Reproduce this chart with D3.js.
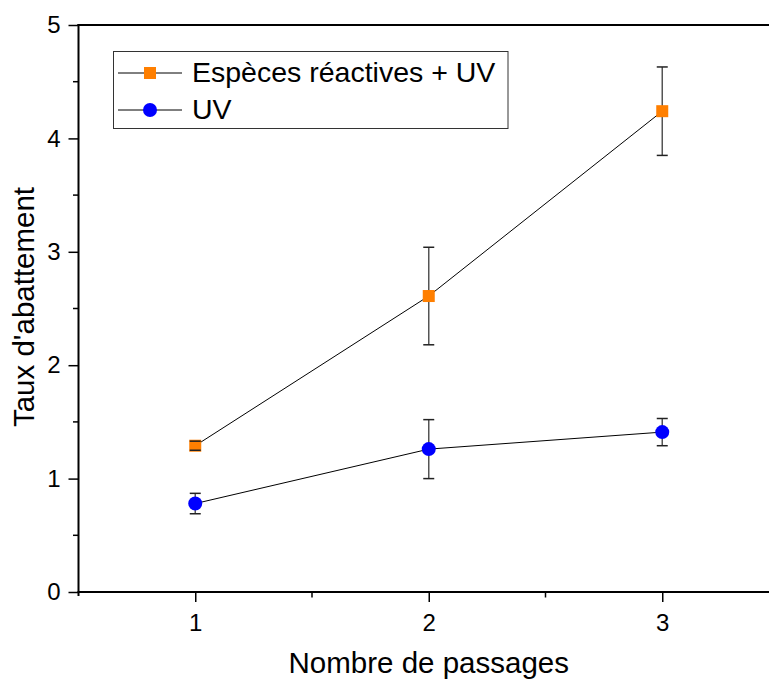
<!DOCTYPE html>
<html><head><meta charset="utf-8">
<script src="https://cdn.jsdelivr.net/npm/d3@7"></script>
<style>body{margin:0;background:#fff}svg{display:block;font-family:"Liberation Sans",Arial,sans-serif}</style>
</head><body>
<svg id="c" width="769" height="679"></svg>
<script>
const passages = [1, 2, 3];
const seriesNames = ["Espèces réactives + UV", "UV"];
const especesValues = [1.29, 2.61, 4.24];
const especesErrors = [0.04, 0.43, 0.39];
const uvValues = [0.78, 1.26, 1.41];
const uvErrors = [0.09, 0.26, 0.12];
const xTicks = [1, 2, 3];
const yTicks = [0, 1, 2, 3, 4, 5];
const xLabel = "Nombre de passages";
const yLabel = "Taux d'abattement";

const FONT = "Liberation Sans, Arial, sans-serif";
const svg = d3.select("#c");
const x = d3.scaleLinear().domain([0.5, 3.5]).range([78.5, 779]);
const y = d3.scaleLinear().domain([0, 5]).range([592, 25]);

// frame top
svg.append("line").attr("x1", x(0.5) - 1).attr("x2", 769).attr("y1", y(5)).attr("y2", y(5))
  .attr("stroke", "#000").attr("stroke-width", 2);

const xMinor = [1.5, 2.5];
const yMinor = [0.5, 1.5, 2.5, 3.5, 4.5];
const xAxis = d3.axisBottom(x).tickValues(xTicks).tickSize(10).tickPadding(12).tickFormat(d3.format("d"));
const yAxis = d3.axisLeft(y).tickValues(yTicks).tickSize(10).tickPadding(8).tickFormat(d3.format("d"));

const gx = svg.append("g").attr("transform", `translate(0,${y(0)})`).call(xAxis);
gx.select(".domain").remove();
gx.append("line").attr("x1", x(0.5) - 1).attr("x2", 769).attr("stroke", "#000").attr("stroke-width", 2);
gx.selectAll(".tick line").attr("stroke-width", 1.5);
gx.selectAll(".tick text").attr("font-size", 24).attr("fill", "#000").attr("font-family", FONT);
gx.selectAll(".minor").data(xMinor).enter().append("line").attr("class", "minor")
  .attr("x1", d => x(d)).attr("x2", d => x(d)).attr("y1", 0).attr("y2", 5.5)
  .attr("stroke", "#000").attr("stroke-width", 1.5);

const gy = svg.append("g").attr("transform", `translate(${x(0.5)},0)`).call(yAxis);
gy.select(".domain").remove();
gy.append("line").attr("y1", y(5) - 1).attr("y2", y(0) + 4).attr("stroke", "#000").attr("stroke-width", 2);
gy.selectAll(".tick line").attr("stroke-width", 1.5);
gy.selectAll(".tick text").attr("font-size", 24).attr("fill", "#000").attr("font-family", FONT);
gy.selectAll(".minor").data(yMinor).enter().append("line").attr("class", "minor")
  .attr("y1", d => y(d)).attr("y2", d => y(d)).attr("x1", 0).attr("x2", -5.5)
  .attr("stroke", "#000").attr("stroke-width", 1.5);

// axis titles
svg.append("text").attr("x", x(2)).attr("y", 673).attr("text-anchor", "middle")
  .attr("font-size", 29.5).text(xLabel);
svg.append("text").attr("transform", `translate(34,307) rotate(-90)`).attr("text-anchor", "middle")
  .attr("font-size", 29.5).text(yLabel);

const series = [
  {name: seriesNames[0], values: especesValues, errors: especesErrors, color: "#ff7f00", shape: "square"},
  {name: seriesNames[1], values: uvValues, errors: uvErrors, color: "#0000ff", shape: "circle"}
];

const line = d3.line().x((d, i) => x(passages[i])).y(d => y(d));

series.forEach(s => {
  const g = svg.append("g");
  const pts = s.values.map((v, i) => ({x: passages[i], v, e: s.errors[i]}));
  g.append("path").attr("d", line(s.values)).attr("fill", "none").attr("stroke", "#000").attr("stroke-width", 1);
  g.selectAll(".ev").data(pts).enter().append("line").attr("class", "ev")
    .attr("stroke", "#555").attr("stroke-width", 1.5)
    .attr("x1", d => x(d.x)).attr("x2", d => x(d.x))
    .attr("y1", d => y(d.v + d.e)).attr("y2", d => y(d.v - d.e));
  if (s.shape === "square") {
    g.selectAll("rect").data(pts).enter().append("rect")
      .attr("x", d => x(d.x) - 6).attr("y", d => y(d.v) - 6).attr("width", 12).attr("height", 12)
      .attr("fill", s.color);
  } else {
    g.selectAll("circle").data(pts).enter().append("circle")
      .attr("cx", d => x(d.x)).attr("cy", d => y(d.v)).attr("r", 7).attr("fill", s.color);
  }
  const caps = g.selectAll(".cap").data(pts).enter().append("g").attr("class", "cap")
    .attr("stroke", "#222").attr("stroke-width", 1.5);
  caps.append("line").attr("x1", d => x(d.x) - 5.5).attr("x2", d => x(d.x) + 5.5)
    .attr("y1", d => y(d.v + d.e)).attr("y2", d => y(d.v + d.e));
  caps.append("line").attr("x1", d => x(d.x) - 5.5).attr("x2", d => x(d.x) + 5.5)
    .attr("y1", d => y(d.v - d.e)).attr("y2", d => y(d.v - d.e));
});

// legend
const lg = svg.append("g");
lg.append("rect").attr("x", 113.5).attr("y", 51.5).attr("width", 394.5).attr("height", 77)
  .attr("fill", "#fff").attr("stroke", "#333").attr("stroke-width", 1);
series.forEach((s, i) => {
  const cy = 73 + i * 37;
  lg.append("line").attr("x1", 118).attr("x2", 182).attr("y1", cy).attr("y2", cy)
    .attr("stroke", "#000").attr("stroke-width", 1);
  if (s.shape === "square") {
    lg.append("rect").attr("x", 144).attr("y", cy - 6).attr("width", 12).attr("height", 12).attr("fill", s.color);
  } else {
    lg.append("circle").attr("cx", 150).attr("cy", cy).attr("r", 7).attr("fill", s.color);
  }
  lg.append("text").attr("x", 192).attr("y", cy + 9).attr("font-size", 28.5).text(s.name);
});
</script>
</body></html>
